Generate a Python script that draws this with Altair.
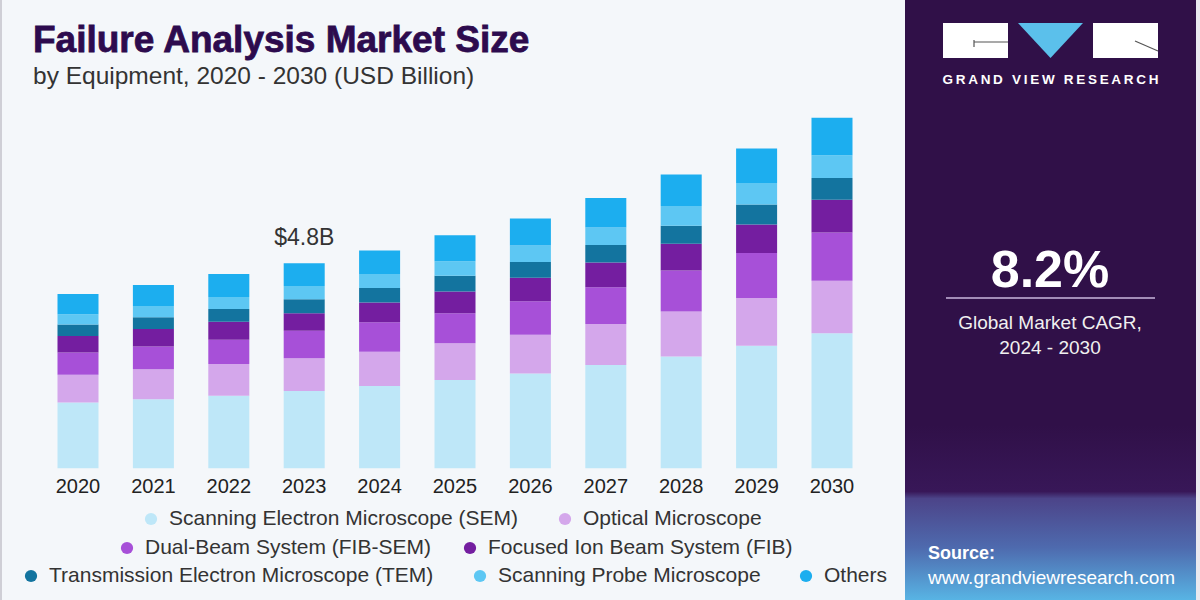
import altair as alt
import pandas as pd

# ---------------- data ----------------
YEARS = ["2020", "2021", "2022", "2023", "2024", "2025", "2026", "2027", "2028", "2029", "2030"]
CATEGORIES = [
    "Scanning Electron Microscope (SEM)",
    "Optical Microscope",
    "Dual-Beam System (FIB-SEM)",
    "Focused Ion Beam System (FIB)",
    "Transmission Electron Microscope (TEM)",
    "Scanning Probe Microscope",
    "Others",
]
SEM = [1.54, 1.62, 1.70, 1.81, 1.93, 2.07, 2.22, 2.42, 2.62, 2.87, 3.16]
OPTICAL = [0.65, 0.70, 0.74, 0.77, 0.80, 0.86, 0.91, 0.96, 1.05, 1.12, 1.23]
DUAL_BEAM = [0.52, 0.53, 0.57, 0.64, 0.69, 0.70, 0.78, 0.86, 0.96, 1.05, 1.13]
FIB = [0.39, 0.41, 0.42, 0.41, 0.46, 0.51, 0.55, 0.58, 0.63, 0.67, 0.77]
TEM = [0.27, 0.28, 0.30, 0.33, 0.34, 0.37, 0.37, 0.41, 0.42, 0.47, 0.51]
PROBE = [0.24, 0.26, 0.28, 0.31, 0.33, 0.34, 0.39, 0.41, 0.46, 0.50, 0.53]
OTHERS = [0.47, 0.49, 0.54, 0.53, 0.55, 0.61, 0.63, 0.69, 0.74, 0.81, 0.88]
SERIES = [SEM, OPTICAL, DUAL_BEAM, FIB, TEM, PROBE, OTHERS]
LABELLED_YEAR = "2023"
CAGR_TEXT = "8.2%"

COLORS = ["#BEE7F8", "#D4A7EB", "#A750D8", "#741EA0", "#13749F", "#5DC7F3", "#1CAEEF"]

# ---------------- table ----------------
rows = []
for i, (cat, vals) in enumerate(zip(CATEGORIES, SERIES)):
    for yr, v in zip(YEARS, vals):
        rows.append({"year": yr, "segment": cat, "order": i, "value": v})
df = pd.DataFrame(rows)
totals = df.groupby("year", as_index=False)["value"].sum()
lab = totals[totals["year"] == LABELLED_YEAR].copy()
lab["label"] = lab["value"].map(lambda v: f"${v:.1f}B")

FONT = "Liberation Sans"
ONE = pd.DataFrame({"k": [0]})

xscale = alt.Scale(domain=YEARS, range=[40, 870], paddingInner=0.456, paddingOuter=0.232)
yscale = alt.Scale(domain=[0, 9], range=[468.3, 84.0])

bars = alt.Chart(df).mark_bar().encode(
    x=alt.X("year:N", scale=xscale, axis=None),
    y=alt.Y("value:Q", stack="zero", scale=yscale, axis=None),
    color=alt.Color("segment:N", scale=alt.Scale(domain=CATEGORIES, range=COLORS), legend=None),
    order=alt.Order("order:Q", sort="ascending"),
)

year_labels = alt.Chart(pd.DataFrame({"year": YEARS})).mark_text(
    font=FONT, fontSize=20, color="#222222", baseline="middle"
).encode(x=alt.X("year:N", scale=xscale, axis=None), y=alt.value(487), text="year:N")

total_label = alt.Chart(lab).mark_text(
    font=FONT, fontSize=23, color="#333333", baseline="alphabetic", dy=-18
).encode(
    x=alt.X("year:N", scale=xscale, axis=None),
    y=alt.Y("value:Q", scale=yscale, axis=None),
    text="label:N",
)


def rect(x1, y1, x2, y2, color):
    return alt.Chart(ONE).mark_rect(color=color, opacity=1).encode(
        x=alt.value(x1), x2=alt.value(x2), y=alt.value(y1), y2=alt.value(y2)
    )


def rule(x1, y1, x2, y2, color, w=1.5):
    return alt.Chart(ONE).mark_rule(color=color, strokeWidth=w).encode(
        x=alt.value(x1), x2=alt.value(x2), y=alt.value(y1), y2=alt.value(y2)
    )


def text(x, y, s, size, color, align="left", weight="normal", baseline="middle", **kw):
    return alt.Chart(ONE).mark_text(
        font=FONT, fontSize=size, color=color, align=align, fontWeight=weight, baseline=baseline, **kw
    ).encode(x=alt.value(x), y=alt.value(y), text=alt.value(s))


layers = []
# frame edges
layers.append(rect(0, 0, 2, 600, "#CFCFD6"))
layers.append(rect(1196, 0, 1200, 600, "#E9E9EF"))

# titles
layers.append(text(33, 52, "Failure Analysis Market Size", 37, "#2D0B4E", weight="bold",
                   baseline="alphabetic", stroke="#2D0B4E", strokeWidth=0.8))
layers.append(text(33, 84, "by Equipment, 2020 - 2030 (USD Billion)", 24.5, "#333333", baseline="alphabetic"))

# right panel
layers.append(rect(905, 0, 1196, 600, "#301048"))
grad = alt.LinearGradient(
    gradient="linear",
    stops=[
        alt.GradientStop(color="#301048", offset=0),
        alt.GradientStop(color="#381758", offset=0.38),
        alt.GradientStop(color="#4C4489", offset=0.42),
        alt.GradientStop(color="#4E6AAE", offset=0.70),
        alt.GradientStop(color="#58B4E4", offset=1),
    ],
    x1=0, x2=0, y1=0, y2=1,
)
layers.append(
    alt.Chart(ONE).mark_rect(color=grad).encode(
        x=alt.value(905), x2=alt.value(1196), y=alt.value(425), y2=alt.value(600)
    )
)
# logo
layers.append(rect(943, 23, 1008, 58, "#FFFFFF"))
layers.append(rect(1093, 23, 1158, 58, "#FFFFFF"))
layers.append(rule(974, 42, 1008, 42, "#555555", 1.2))
layers.append(rule(974, 40, 974, 47, "#555555", 1.2))
layers.append(rule(1135, 41, 1158, 51, "#555555", 1.2))
layers.append(
    alt.Chart(ONE).mark_point(
        shape="M -1 -0.54 L 1 -0.54 L 0 0.54 Z", size=4225, filled=True,
        fill="#5BC0EB", opacity=1, strokeWidth=0,
    ).encode(x=alt.value(1050.5), y=alt.value(40.5))
)
layers.append(text(1050.5, 80, "\u2009".join("GRAND VIEW RESEARCH"), 13.5, "#FFFFFF", align="center", weight="bold"))

layers.append(text(1050, 287, CAGR_TEXT, 52, "#FFFFFF", align="center", weight="bold", baseline="alphabetic"))
layers.append(rule(946, 298, 1155, 298, "#C9B6DD", 1.5))
layers.append(text(1050, 323, "Global Market CAGR,", 19, "#F0F0F0", align="center"))
layers.append(text(1050, 348, "2024 - 2030", 19, "#F0F0F0", align="center"))
layers.append(text(928, 554, "Source:", 18, "#FFFFFF", weight="bold"))
layers.append(text(928, 578, "www.grandviewresearch.com", 19, "#FFFFFF"))

# legend
LEGEND_LAYOUT = [(0, 151, 519), (1, 565, 519), (2, 127, 548), (3, 470, 548),
                 (4, 31, 576), (5, 480, 576), (6, 806, 576)]
for idx, cx, cy in LEGEND_LAYOUT:
    layers.append(
        alt.Chart(ONE).mark_circle(size=150, color=COLORS[idx], opacity=1).encode(
            x=alt.value(cx), y=alt.value(cy)
        )
    )
    layers.append(text(cx + 18, cy, CATEGORIES[idx], 21, "#333333"))

chart = alt.layer(bars, year_labels, total_label, *layers).properties(
    width=1200,
    height=600,
    autosize=alt.AutoSizeParams(type="none"),
    padding=0,
    background="#F4F7FA",
).configure_view(stroke=None)

chart.save("out.html", embed_options={"renderer": "svg", "actions": False})
